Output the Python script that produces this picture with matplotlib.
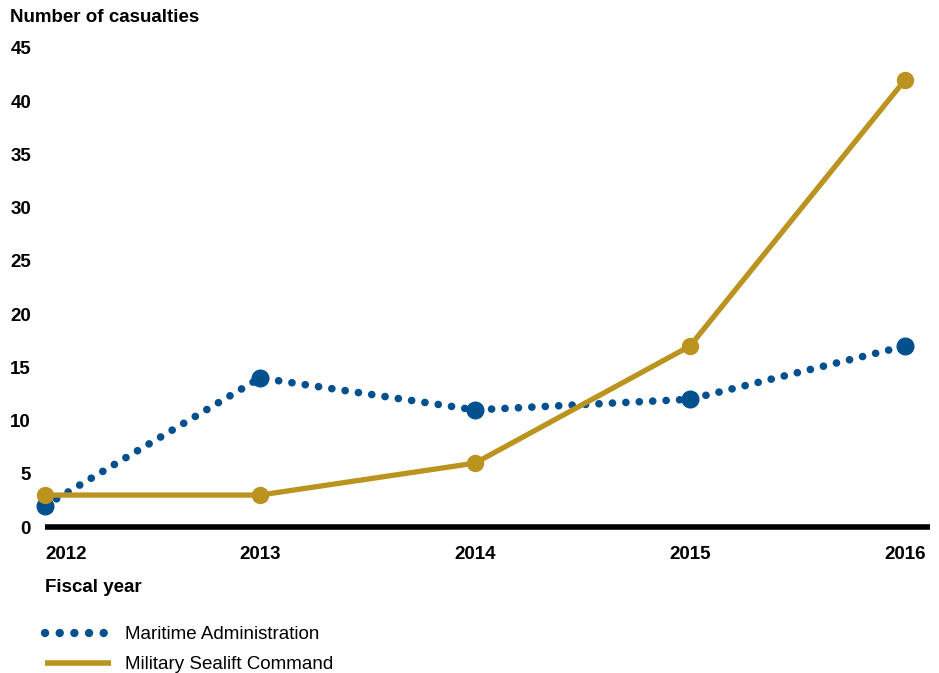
import matplotlib.pyplot as plt
from matplotlib.lines import Line2D

plt.rcParams['font.family'] = ['Liberation Sans', 'DejaVu Sans']

years = [2012, 2013, 2014, 2015, 2016]
maritime = [2, 14, 11, 12, 17]
sealift = [3, 3, 6, 17, 42]
y_ticks = [0, 5, 10, 15, 20, 25, 30, 35, 40, 45]

blue = '#03508f'
gold = '#bb931f'

fig = plt.figure(figsize=(9.39, 6.73), dpi=100)
ax = fig.add_axes([45 / 939, 1 - 527 / 673, (930 - 45) / 939, (527 - 48) / 673])

# dotted blue line with large point markers
ax.plot(years, maritime, color=blue, lw=5.5, linestyle=(0, (0.01, 1.75)),
        dash_capstyle='round', zorder=3, clip_on=False)
ax.plot(years, maritime, 'o', color=blue, ms=12, zorder=4, clip_on=False)
# solid gold line drawn on top
ax.plot(years, sealift, color=gold, lw=3.8, solid_capstyle='butt', zorder=5,
        clip_on=False)
ax.plot(years, sealift, 'o', color=gold, ms=11.5, zorder=5, clip_on=False)

ax.set_xlim(2012, 2016 + 25 / 215)
ax.set_ylim(0, 45)
ax.set_yticks(y_ticks)
ax.set_yticklabels([str(v) for v in y_ticks], fontsize=13.5, fontweight='bold')
ax.set_xticks(years)
ax.set_xticklabels([str(y) for y in years], fontsize=13.5, fontweight='bold')
ax.get_xticklabels()[0].set_horizontalalignment('left')
ax.tick_params(length=0)
ax.tick_params(axis='y', pad=10)
ax.tick_params(axis='x', pad=14)
for s in ['top', 'right', 'left']:
    ax.spines[s].set_visible(False)
ax.spines['bottom'].set_linewidth(4)
ax.spines['bottom'].set_color('black')
ax.spines['bottom'].set_capstyle('butt')

fig.text(10 / 939, 1 - 17 / 673, 'Number of casualties', fontsize=13.5,
         fontweight='bold', va='center', ha='left')
fig.text(45 / 939, 1 - 588 / 673, 'Fiscal year', fontsize=13.5,
         fontweight='bold', va='center', ha='left')

handles = [Line2D([], [], color=blue, lw=6, linestyle=(0, (0.01, 1.75)),
                  dash_capstyle='round'),
           Line2D([], [], color=gold, lw=4, solid_capstyle='butt')]
fig.legend(handles, ['Maritime Administration', 'Military Sealift Command'],
           loc='upper left', bbox_to_anchor=(45 / 939, 1 - 626 / 673),
           frameon=False, fontsize=13.5, handlelength=3.5, handletextpad=0.75,
           labelspacing=0.7, borderaxespad=0, borderpad=0)

fig.savefig('out.png', dpi=100)
